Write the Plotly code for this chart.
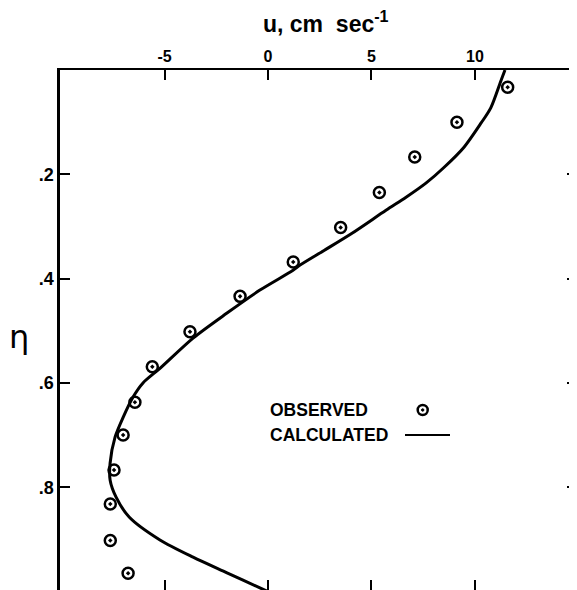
import plotly.graph_objects as go

# Observed velocities
obs_eta = [0.033, 0.100, 0.167, 0.235, 0.302, 0.368, 0.434, 0.502, 0.569, 0.637, 0.700, 0.767, 0.832, 0.902, 0.965]
obs_u = [11.58, 9.13, 7.09, 5.38, 3.51, 1.22, -1.35, -3.77, -5.59, -6.43, -7.00, -7.44, -7.62, -7.62, -6.76]

# Calculated profile
calc_eta = [0.0, 0.020, 0.072, 0.102, 0.148, 0.187, 0.217, 0.244, 0.269, 0.313, 0.346,
            0.374, 0.384, 0.422, 0.466, 0.514, 0.572, 0.600, 0.627, 0.666, 0.704, 0.754,
            0.786, 0.819, 0.857, 0.901, 0.934, 0.964, 0.993, 1.0]
calc_u = [11.45, 11.26, 10.77, 10.29, 9.47, 8.50, 7.63, 6.67, 5.70, 4.06, 2.71,
          1.55, 1.21, -0.39, -1.98, -3.62, -5.22, -6.04, -6.52, -7.00, -7.39, -7.63,
          -7.63, -7.34, -6.71, -5.22, -3.62, -1.98, -0.39, 0.0]

x_ticks = [-5, 0, 5, 10]
x_labels = ["-5", "0", "5", "10"]
y_ticks = [0.2, 0.4, 0.6, 0.8]
y_labels = [".2", ".4", ".6", ".8"]

XR = [-10.05, 14.93]
YR = [0.997, 0.0]
FONT = "Liberation Sans"

fig = go.Figure()
fig.add_trace(go.Scatter(x=calc_u, y=calc_eta, mode="lines",
                         line=dict(color="black", width=3, shape="spline", smoothing=0.8),
                         xaxis="x", yaxis="y", showlegend=False, hoverinfo="skip"))
fig.add_trace(go.Scatter(x=obs_u, y=obs_eta, mode="markers",
                         marker=dict(symbol="circle-open-dot", size=11, color="black",
                                     line=dict(width=2.5, color="black")),
                         xaxis="x2", yaxis="y2", showlegend=False, hoverinfo="skip"))

axis_common = dict(showgrid=False, zeroline=False, ticks="inside", ticklen=10,
                   tickwidth=2, tickcolor="black")

# The page body has an 8px margin; the figure is sized so its plot area
# still spans the window from (60, 70) to the right and bottom edges.
fig.update_layout(
    width=569, height=582,
    margin=dict(l=52, r=0, t=62, b=0),
    paper_bgcolor="white", plot_bgcolor="white",
    showlegend=False,
    xaxis=dict(range=XR, side="top", tickvals=x_ticks, ticktext=x_labels,
               showline=True, linewidth=2, linecolor="black", anchor="y",
               tickfont=dict(family=FONT, size=16, color="black", weight="bold"),
               **axis_common),
    yaxis=dict(range=YR, tickvals=y_ticks, ticktext=y_labels,
               showline=True, linewidth=2.5, linecolor="black", anchor="x",
               tickfont=dict(family=FONT, size=18, color="black", weight="bold"),
               **axis_common),
    xaxis2=dict(range=XR, side="bottom", overlaying="x", anchor="y2",
                tickvals=x_ticks, showticklabels=False, showline=False, **axis_common),
    yaxis2=dict(range=YR, side="right", overlaying="y", anchor="x2",
                tickvals=y_ticks, showticklabels=False, showline=False, **axis_common),
)

# Axis titles
fig.add_annotation(text="u, cm  sec<sup>-1</sup>", xref="paper", yref="paper",
                   x=0.5145, y=1.092, xanchor="center", yanchor="middle", showarrow=False,
                   font=dict(family=FONT, size=23, color="black", weight="bold"))
fig.add_annotation(text="η", xref="paper", yref="paper",
                   x=(19 - 60) / 517, y=0.4865, xanchor="center", yanchor="middle", showarrow=False,
                   font=dict(family="DejaVu Sans", size=32, color="black"))

# Legend (text left, key right)
fig.add_annotation(text="OBSERVED", xref="paper", yref="paper", x=0.4023, y=0.3462,
                   xanchor="left", yanchor="middle", showarrow=False,
                   font=dict(family=FONT, size=17.5, color="black", weight="bold"))
fig.add_annotation(text="CALCULATED", xref="paper", yref="paper", x=0.4023, y=0.298,
                   xanchor="left", yanchor="middle", showarrow=False,
                   font=dict(family=FONT, size=17.5, color="black", weight="bold"))
kx = (422.7 - 60) / 517
ky = 0.3462
fig.add_shape(type="circle", xref="paper", yref="paper", xsizemode="pixel", ysizemode="pixel",
              xanchor=kx, yanchor=ky, x0=-5, x1=5, y0=-5, y1=5,
              line=dict(color="black", width=2.5))
fig.add_shape(type="circle", xref="paper", yref="paper", xsizemode="pixel", ysizemode="pixel",
              xanchor=kx, yanchor=ky, x0=-1.2, x1=1.2, y0=-1.2, y1=1.2,
              line=dict(color="black", width=1), fillcolor="black")
fig.add_shape(type="line", xref="paper", yref="paper",
              x0=(405 - 60) / 517, x1=(450 - 60) / 517, y0=0.298, y1=0.298,
              line=dict(color="black", width=2))

fig.write_html("out.html")
